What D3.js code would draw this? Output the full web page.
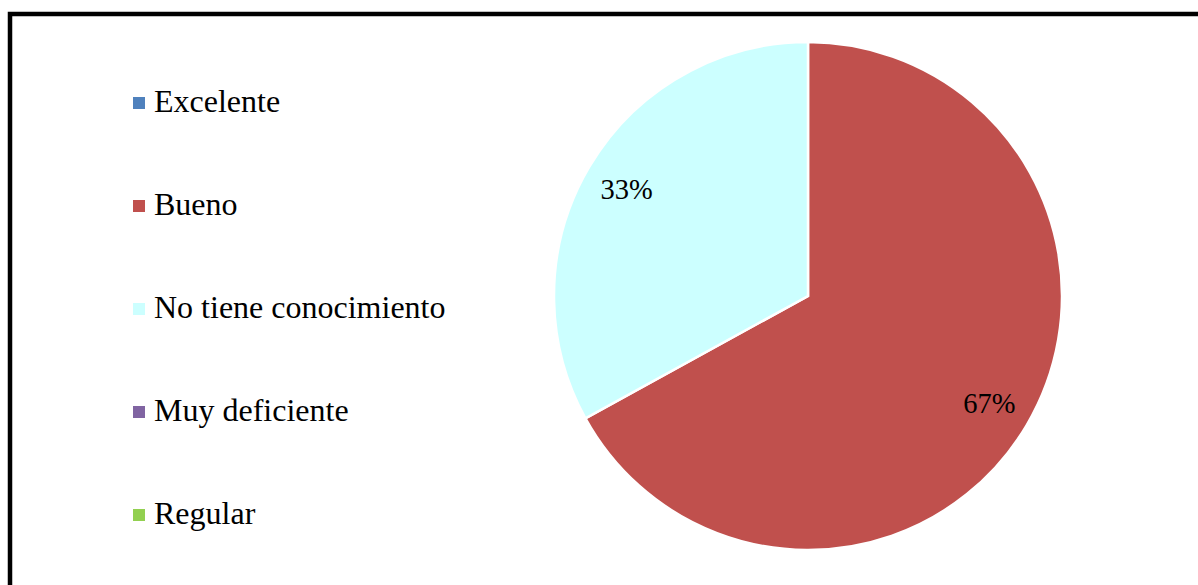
<!DOCTYPE html>
<html>
<head>
<meta charset="utf-8">
<script src="https://cdn.jsdelivr.net/npm/d3@7"></script>
<style>
  html, body { margin: 0; padding: 0; background: #fff; overflow: hidden; }
  svg { display: block; }
  text { font-family: "Liberation Serif", "Times New Roman", serif; fill: #000; }
</style>
</head>
<body>
<svg id="chart" width="1198" height="585"></svg>
<script>
const categories = ["Excelente", "Bueno", "No tiene conocimiento", "Muy deficiente", "Regular"];
const values = [0, 67, 33, 0, 0];
const colors = ["#4F81BD", "#C0504D", "#CCFFFF", "#8064A2", "#92D050"];

const svg = d3.select("#chart");

// frame (extends beyond right and bottom edges)
svg.append("rect")
  .attr("x", 10).attr("y", 14)
  .attr("width", 1210).attr("height", 600)
  .attr("fill", "#fff")
  .attr("stroke", "#000").attr("stroke-width", 4.5);

const cx = 808, cy = 296, r = 254;
const data = categories.map((c, i) => ({ cat: c, value: values[i], color: colors[i] }));
const total = d3.sum(values);

const pie = d3.pie().value(d => d.value).sort(null);
const arc = d3.arc().innerRadius(0).outerRadius(r);
const labelArc = d3.arc().innerRadius(r * 0.83).outerRadius(r * 0.83);

const g = svg.append("g").attr("transform", `translate(${cx},${cy})`);
const arcs = pie(data).filter(d => d.data.value > 0);

g.selectAll("path").data(arcs).join("path")
  .attr("d", arc)
  .attr("fill", d => d.data.color)
  .attr("stroke", "#fff").attr("stroke-width", 2.5)
  .attr("stroke-linejoin", "miter");

g.selectAll("text.lbl").data(arcs).join("text")
  .attr("class", "lbl")
  .attr("x", d => labelArc.centroid(d)[0])
  .attr("y", d => labelArc.centroid(d)[1] + 10)
  .attr("text-anchor", "middle")
  .attr("font-size", 28.5)
  .text(d => Math.round(d.data.value / total * 100) + "%");

// legend
const ly = d3.scalePoint().domain(categories).range([103, 515]);
const leg = svg.append("g");
const items = leg.selectAll("g").data(data).join("g")
  .attr("transform", d => `translate(133,${ly(d.cat)})`);
items.append("rect")
  .attr("x", 0).attr("y", -6).attr("width", 12).attr("height", 12)
  .attr("fill", d => d.color);
items.append("text")
  .attr("x", 21).attr("y", 9)
  .attr("font-size", 32)
  .text(d => d.cat);
</script>
</body>
</html>
